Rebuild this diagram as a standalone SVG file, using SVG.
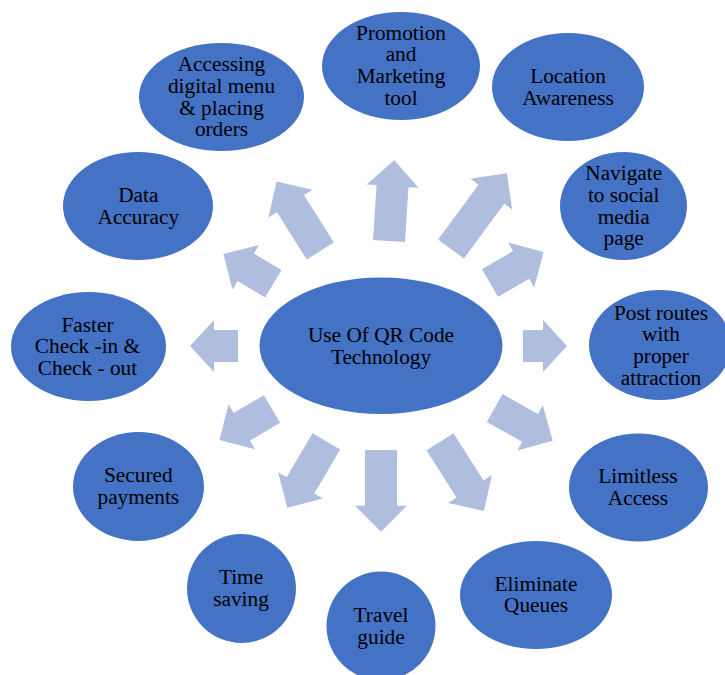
<svg xmlns="http://www.w3.org/2000/svg" width="725" height="675" viewBox="0 0 725 675" font-family="'Liberation Serif', 'DejaVu Serif', serif">
<style>
.node{fill:#4472C4}
.arr{fill:#AFBDDF}
.t{font-family:'Liberation Serif','DejaVu Serif',serif;font-size:21.3px;fill:#000;text-anchor:middle}
</style>
<rect width="725" height="675" fill="#fff"/>
<g id="connectors">
<polygon class="arr" transform="translate(389,241) rotate(-86.3)" points="0,-16 55,-16 55,-26 81,0 55,26 55,16 0,16"/>
<polygon class="arr" transform="translate(451,249) rotate(-53.6)" points="0,-16 68,-16 68,-26 94,0 68,26 68,16 0,16"/>
<polygon class="arr" transform="translate(490,283) rotate(-30.1)" points="0,-16 36,-16 36,-26 62,0 36,26 36,16 0,16"/>
<polygon class="arr" transform="translate(523,346) rotate(0)" points="0,-16 20,-16 20,-26 44,0 20,26 20,16 0,16"/>
<polygon class="arr" transform="translate(494.7,408) rotate(29.4)" points="0,-16 40.6,-16 40.6,-26 66.6,0 40.6,26 40.6,16 0,16"/>
<polygon class="arr" transform="translate(440,441.7) rotate(57.6)" points="0,-16 56,-16 56,-26 82,0 56,26 56,16 0,16"/>
<polygon class="arr" transform="translate(381,450) rotate(90)" points="0,-16 55.7,-16 55.7,-26 81.7,0 55.7,26 55.7,16 0,16"/>
<polygon class="arr" transform="translate(326.3,441.3) rotate(120.4)" points="0,-16 51,-16 51,-26 77,0 51,26 51,16 0,16"/>
<polygon class="arr" transform="translate(272,409) rotate(149.5)" points="0,-16 35,-16 35,-26 61,0 35,26 35,16 0,16"/>
<polygon class="arr" transform="translate(238,346) rotate(180)" points="0,-16 24,-16 24,-26 48,0 24,26 24,16 0,16"/>
<polygon class="arr" transform="translate(273.3,283.7) rotate(-149.3)" points="0,-16 32,-16 32,-26 58,0 32,26 32,16 0,16"/>
<polygon class="arr" transform="translate(320.3,251) rotate(-122.2)" points="0,-16 56,-16 56,-26 82,0 56,26 56,16 0,16"/>
</g>
<g id="center">
<ellipse class="node" cx="381" cy="345.7" rx="121.5" ry="68.3"/>
<text class="t" x="381" y="341.7">Use Of QR Code</text>
<text class="t" x="381" y="363.5">Technology</text>
</g>
<g id="n1">
<ellipse class="node" cx="221.5" cy="97" rx="82.5" ry="54"/>
<text class="t" x="221.5" y="71">Accessing</text>
<text class="t" x="221.5" y="92.8">digital menu</text>
<text class="t" x="221.5" y="114.6">&amp; placing</text>
<text class="t" x="221.5" y="136.4">orders</text>
</g>
<g id="n2">
<ellipse class="node" cx="401" cy="66" rx="79" ry="54"/>
<text class="t" x="401" y="39.5">Promotion</text>
<text class="t" x="401" y="61.3">and</text>
<text class="t" x="401" y="83.1">Marketing</text>
<text class="t" x="401" y="104.9">tool</text>
</g>
<g id="n3">
<ellipse class="node" cx="568" cy="87" rx="76" ry="54"/>
<text class="t" x="568" y="82.7">Location</text>
<text class="t" x="568" y="104.5">Awareness</text>
</g>
<g id="n4">
<ellipse class="node" cx="623.5" cy="206" rx="63.5" ry="54"/>
<text class="t" x="623.7" y="180">Navigate</text>
<text class="t" x="623.7" y="201.8">to social</text>
<text class="t" x="623.7" y="223.6">media</text>
<text class="t" x="623.7" y="245.4">page</text>
</g>
<g id="n5">
<ellipse class="node" cx="660" cy="345" rx="71" ry="55"/>
<text class="t" x="661" y="319.5">Post routes</text>
<text class="t" x="661" y="341.3">with</text>
<text class="t" x="661" y="363.1">proper</text>
<text class="t" x="661" y="384.9">attraction</text>
</g>
<g id="n6">
<ellipse class="node" cx="638.5" cy="487.5" rx="69.5" ry="54"/>
<text class="t" x="638" y="483">Limitless</text>
<text class="t" x="638" y="504.8">Access</text>
</g>
<g id="n7">
<ellipse class="node" cx="536" cy="595" rx="76" ry="54"/>
<text class="t" x="536" y="590.5">Eliminate</text>
<text class="t" x="536" y="612.3">Queues</text>
</g>
<g id="n8">
<ellipse class="node" cx="381" cy="626" rx="54.5" ry="54.5"/>
<text class="t" x="381" y="621.7">Travel</text>
<text class="t" x="381" y="643.5">guide</text>
</g>
<g id="n9">
<ellipse class="node" cx="241.5" cy="588.5" rx="54.5" ry="54.5"/>
<text class="t" x="241" y="584.3">Time</text>
<text class="t" x="241" y="606.1">saving</text>
</g>
<g id="n10">
<ellipse class="node" cx="138.5" cy="486.5" rx="65.5" ry="54.5"/>
<text class="t" x="138.3" y="482">Secured</text>
<text class="t" x="138.3" y="503.8">payments</text>
</g>
<g id="n11">
<ellipse class="node" cx="88.5" cy="346.5" rx="77.5" ry="54.5"/>
<text class="t" x="87.5" y="331.5">Faster</text>
<text class="t" x="87.5" y="353.3">Check -in &amp;</text>
<text class="t" x="87.5" y="375.1">Check - out</text>
</g>
<g id="n12">
<ellipse class="node" cx="138" cy="206" rx="75" ry="54"/>
<text class="t" x="138.3" y="201.7">Data</text>
<text class="t" x="138.3" y="223.5">Accuracy</text>
</g>
</svg>
